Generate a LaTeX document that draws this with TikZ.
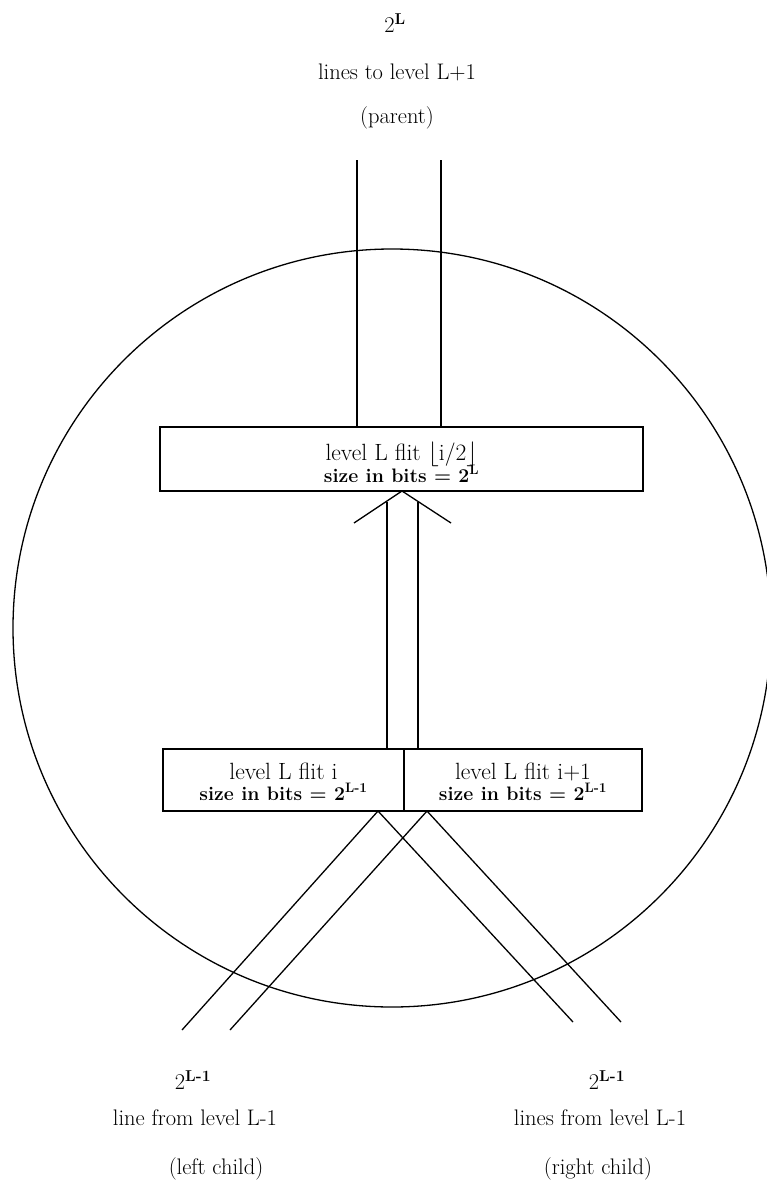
\documentclass[tikz,border=0pt]{standalone}
\begin{document}
\begin{tikzpicture}[x=1pt,y=-1pt,
  ln/.style={line width=1.3pt},
  boxn/.style={draw, line width=1.3pt, rectangle, inner sep=0pt},
  big/.style={font=\fontsize{22.5}{27}\selectfont, inner sep=0pt, anchor=base},
  boxtxt/.style={font=\fontsize{23.5}{27}\selectfont, inner sep=0pt, anchor=base},
  small/.style={font=\fontsize{19.5}{23}\selectfont\bfseries, inner sep=0pt, anchor=base}]
\useasboundingbox (0,0) rectangle (766,1191);
% circle
\draw[ln] (392,628) circle[radius=379pt];
% boxes
\node[boxn, minimum width=483pt, minimum height=64pt] (tb) at (401.5,459) {};
\node[boxn, minimum width=241pt, minimum height=62pt] (bl) at (283.5,780) {};
\node[boxn, minimum width=238pt, minimum height=62pt] (br) at (523,780) {};
% box texts
\node[boxtxt] (tb1) at (401.5,460) {level L flit $\lfloor$i/2$\rfloor$};
\node[small] (tb2) at (401.5,482) {size in bits = 2\textsuperscript{L}};
\node[boxtxt] (bl1) at (283.5,779) {level L flit i};
\node[small] (bl2) at (283.5,800) {size in bits = 2\textsuperscript{L-1}};
\node[boxtxt] (br1) at (523,779) {level L flit i+1};
\node[small] (br2) at (523,800) {size in bits = 2\textsuperscript{L-1}};
% parent lines
\coordinate (p1) at (357,160);
\coordinate (p2) at (441,160);
\draw[ln] (p1) -- (p1 |- tb.north);
\draw[ln] (p2) -- (p2 |- tb.north);
% arrow
\coordinate (apex) at (402,491);
\coordinate (wl) at (354,523);
\coordinate (wr) at (451,523);
\coordinate (s1) at (387,501.5);
\coordinate (s2) at (418,502);
\draw[ln] (wl) -- (apex) -- (wr);
\draw[ln] (s1) -- (s1 |- bl.north);
\draw[ln] (s2) -- (s2 |- bl.north);
% child lines
\coordinate (x1) at (378,811);
\coordinate (x2) at (427,811);
\coordinate (e1) at (182,1030);
\coordinate (e2) at (230,1030);
\coordinate (e3) at (573,1022);
\coordinate (e4) at (621,1022);
\draw[ln] (e1) -- (x1) -- (e3);
\draw[ln] (e2) -- (x2) -- (e4);
% outer labels
\node[big] (t1) at (395,32) {2\textsuperscript{\bfseries L}};
\node[big] (t2) at (397,79) {lines to level L+1};
\node[big] (t3) at (397,123) {(parent)};
\node[big] (l1) at (193,1089) {2\textsuperscript{\bfseries L-1}};
\node[big] (l2) at (195,1125) {line from level L-1};
\node[big] (l3) at (216,1174) {(left child)};
\node[big] (r1) at (607,1089) {2\textsuperscript{\bfseries L-1}};
\node[big] (r2) at (600,1125) {lines from level L-1};
\node[big] (r3) at (598,1174) {(right child)};
\end{tikzpicture}
\end{document}
